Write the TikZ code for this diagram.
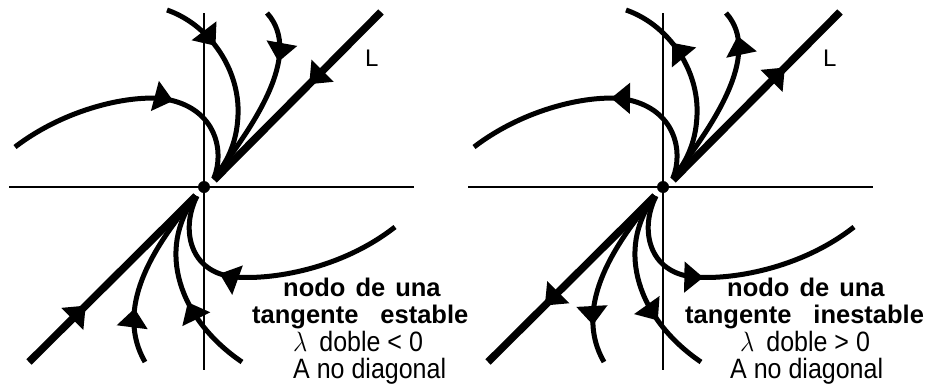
\documentclass[tikz,border=0pt]{standalone}
\usepackage{graphicx}
\usepackage{fontspec}
\setmainfont{Liberation Sans}
\usetikzlibrary{arrows.meta,decorations.markings}
\tikzset{
  axis/.style={line width=1.8pt},
  traj/.style={line width=5pt},
  eigen/.style={line width=7.5pt},
  fw/.style={postaction={decorate,decoration={markings,mark=at position #1 with {\arrow{Triangle[length=19pt,width=30pt]}}}}},
  bw/.style={postaction={decorate,decoration={markings,mark=at position #1 with {\arrowreversed{Triangle[length=19pt,width=30pt]}}}}},
  boldtxt/.style={font=\fontsize{25.5}{30}\bfseries\selectfont, inner sep=0pt, anchor=base west},
  regtxt/.style={font=\fontsize{25}{30}\selectfont, inner sep=0pt, anchor=base west},
  lbl/.style={font=\fontsize{24}{28}\selectfont, inner sep=0pt, anchor=base west},
}
\newcommand{\tallline}[1]{\scalebox{1}[1.12]{#1}}
\begin{document}
\begin{tikzpicture}[x=1pt,y=-1pt]
\useasboundingbox (0,0) rectangle (940,383);
% ---------------- left panel: stable ----------------
\begin{scope}
  \coordinate (O1) at (204,187);
  \draw[axis] (9,187) -- (414,187);
  \draw[axis] (204,13) -- (204,370);
  \draw[eigen,fw=0.43] (381,12) -- (214,180);
  \draw[eigen,fw=0.34] (29,362) -- (196,196);
  \draw[traj,fw=0.63] (15,147) .. controls (70,105) and (140,93) .. (170,100) .. controls (215,110) and (225,150) .. (214,178);
  \draw[traj,fw=0.30] (167,10) .. controls (210,25) and (240,70) .. (238,115) .. controls (237,145) and (225,165) .. (214,178);
  \draw[traj,fw=0.28] (267,13) .. controls (305,55) and (250,130) .. (214,178);
  \draw[traj,fw=0.67] (395,227) .. controls (340,270) and (270,280) .. (235,277) .. controls (190,273) and (180,230) .. (197,196);
  \draw[traj,fw=0.42] (242,362) .. controls (180,320) and (155,250) .. (196,196);
  \draw[traj,fw=0.30] (145,362) .. controls (115,310) and (150,250) .. (196,196);
  \fill (O1) circle (6);
\end{scope}
\node[lbl] (L1) at (365,66) {L};
\node[boldtxt] (t1a) at (283,296) {nodo\hspace{10pt}de\hspace{10pt}una};
\node[boldtxt] (t1b) at (252,323) {tangente\hspace{22pt}estable};
\node[regtxt] (t1c) at (293,351) {\tallline{$\lambda$\hspace{12pt}doble < 0}};
\node[regtxt] (t1d) at (293,378) {\tallline{A no diagonal}};
% ---------------- right panel: unstable ----------------
\begin{scope}[shift={(459,0)}]
  \coordinate (O2) at (204,187);
  \draw[axis] (9,187) -- (414,187);
  \draw[axis] (204,13) -- (204,370);
  \draw[eigen,bw=0.33] (381,12) -- (214,180);
  \draw[eigen,bw=0.34] (29,362) -- (196,196);
  \draw[traj,bw=0.55] (15,147) .. controls (70,105) and (140,93) .. (170,100) .. controls (215,110) and (225,150) .. (214,178);
  \draw[traj,bw=0.28] (167,10) .. controls (210,25) and (240,70) .. (238,115) .. controls (237,145) and (225,165) .. (214,178);
  \draw[traj,bw=0.14] (267,13) .. controls (305,55) and (250,130) .. (214,178);
  \draw[traj,bw=0.58] (395,227) .. controls (340,270) and (270,280) .. (235,277) .. controls (190,273) and (180,230) .. (197,196);
  \draw[traj,bw=0.31] (242,362) .. controls (180,320) and (155,250) .. (196,196);
  \draw[traj,bw=0.21] (145,362) .. controls (115,310) and (150,250) .. (196,196);
  \fill (O2) circle (6);
\end{scope}
\node[lbl] (L2) at (823,66) {L};
\node[boldtxt] (t2a) at (727,296) {nodo\hspace{10pt}de\hspace{10pt}una};
\node[boldtxt] (t2b) at (685,323) {tangente\hspace{22pt}inestable};
\node[regtxt] (t2c) at (740,351) {\tallline{$\lambda$\hspace{12pt}doble > 0}};
\node[regtxt] (t2d) at (730,378) {\tallline{A no diagonal}};
\end{tikzpicture}
\end{document}
